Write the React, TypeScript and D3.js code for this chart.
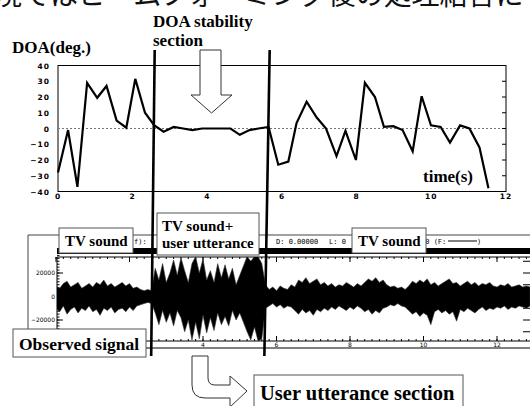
import React from 'react';
import * as d3 from 'd3';

const W = 530;
const H = 406;

// DOA estimate over time
const doaTime = [0, 0.27, 0.52, 0.78, 1.05, 1.3, 1.57, 1.83, 2.07, 2.33, 2.58, 2.83, 3.1, 3.35, 3.6, 3.86, 4.12, 4.38, 4.62, 4.87, 5.13, 5.37, 5.64,
  5.9, 6.17, 6.39, 6.66, 6.93, 7.18, 7.46, 7.7, 7.98, 8.22, 8.49, 8.73, 8.98, 9.23, 9.5, 9.74, 9.99, 10.25, 10.5, 10.77, 11.02, 11.29, 11.53];
const doaDeg = [-28, -1, -37, 29, 19.5, 27, 5, 0.5, 31.5, 10, 2, -2, 1, 0, -1, 0, 0, 0, 0, -4, -1, 0, 1,
  -23, -21, 3.5, 17, 7, 0, -17.5, -1.5, -20, 29, 20, 1, 1.5, -1, -14.5, 20.5, 2, 1, -9, 2, 0, -12, -38];
const doaYTicks = [40, 30, 20, 10, 0, -10, -20, -30, -40];
const doaXTicks = [0, 2, 4, 6, 8, 10, 12];

// observed signal envelope, one value every 0.1 s (thousands)
const wavStep = 0.1;
const wavUpper = [
  9, 7, 11, 13, 8, 10, 12, 7, 9, 11, 8, 12, 10, 14, 9, 11, 8, 10, 12, 9, 11, 7, 8, 6, 5, 6, 5,
  24, 14, 28, 12, 20, 31, 18, 33, 22, 12, 28, 34, 20, 32, 14, 22, 12, 28, 16, 27, 15, 24, 10, 18, 26, 34, 30, 34, 34, 28, 10,
  6, 8, 5, 9, 7, 6, 10, 8, 14, 12, 16, 11, 13, 15, 10, 12, 9, 11, 8, 10, 9, 12, 10, 8, 11, 9, 12, 15, 13, 16, 12, 14,
  10, 8, 9, 7, 8, 6, 9, 13, 11, 14, 12, 15, 10, 12, 9, 11, 13, 15, 11, 12, 9, 11, 13, 10, 12, 9, 11, 10, 12, 9,
  8, 10, 9, 11, 8, 9, 10, 8, 9, 8];
const wavLower = [
  -10, -13, -8, -15, -11, -9, -14, -10, -12, -8, -13, -11, -16, -10, -12, -9, -14, -11, -10, -13, -9, -12, -8, -7, -6, -5, -6,
  -14, -24, -12, -22, -14, -25, -12, -18, -30, -20, -37, -22, -36, -16, -31, -18, -29, -14, -24, -17, -25, -12, -20, -14, -22, -30, -37, -26, -38, -36, -10,
  -8, -6, -9, -7, -10, -8, -9, -12, -15, -11, -14, -12, -16, -11, -13, -10, -12, -9, -11, -8, -10, -12, -9, -11, -8, -10, -13, -11, -15, -12, -14, -10,
  -9, -7, -8, -6, -8, -9, -12, -15, -13, -17, -14, -16, -24, -13, -11, -14, -12, -15, -13, -21, -11, -13, -10, -12, -14, -11, -9, -12, -10, -11,
  -9, -10, -8, -11, -9, -10, -8, -9, -10, -8];
const wavXTicks = [4, 6, 8, 10, 12];
const wavYLabels = [20000, 0, -20000];

// boundaries of the DOA stability section (s)
const sectionBounds = [2.59, 5.67];

const serif = '"Liberation Serif", "Times New Roman", serif';
const sans = '"DejaVu Sans", Arial, sans-serif';
const mono = '"DejaVu Sans Mono", "Liberation Mono", monospace';

const minus = (v: number) => String(v).replace('-', '\u2212');

function Label({ x, y, w, h, lines, size, tx, base }: any) {
  return (
    <g>
      <rect x={x} y={y} width={w} height={h} fill="#fff" stroke="#555" strokeWidth={1} />
      {lines.map((s: string, i: number) => (
        <text key={i} x={tx} y={base[i]} fontFamily={serif} fontWeight="bold" fontSize={size} fill="#000">{s}</text>
      ))}
    </g>
  );
}

export default function App() {
  const xDoa = d3.scaleLinear().domain([0, 12]).range([58, 506]);
  const yDoa = d3.scaleLinear().domain([-40, 40]).range([191.5, 65.5]);
  const xWav = d3.scaleLinear().domain([0, 12]).range([56, 497]);
  const yWav = d3.scaleLinear().domain([-20000, 20000]).range([320, 273]);

  const doaLine = d3.line<number>()
    .x((_, i) => xDoa(doaTime[i]))
    .y(d => yDoa(d));

  const wavArea = d3.area<number>()
    .x((_, i) => xWav(i * wavStep))
    .y0((_, i) => yWav(wavLower[i] * 1000))
    .y1(d => yWav(d * 1000));

  const minorT = d3.range(0, 13, 0.2);
  const evenT = d3.range(0, 14, 2);
  const sideTicks = d3.range(-30000, 35000, 10000);
  const leftMinor = d3.range(-35000, 36000, 2500);

  return (
    <svg width={W} height={H} style={{ position: 'absolute', left: 0, top: 0, background: '#fff' }}>
      <defs>
        <clipPath id="wclip"><rect x={57} y={257} width={473} height={84} /></clipPath>
        <clipPath id="page"><rect x={0} y={0} width={W} height={H} /></clipPath>
      </defs>

      {/* heading, cut off by the top edge */}
      <text x={-6} y={5} fontFamily='"Noto Sans CJK JP", sans-serif' fontSize={28} fill="#111">境ではビームフォーミング後の処理結合に</text>

      {/* ---- DOA plot ---- */}
      <text x={12} y={53} fontFamily={serif} fontWeight="bold" fontSize={17}>DOA(deg.)</text>
      <text x={153} y={27} fontFamily={serif} fontWeight="bold" fontSize={17}>DOA stability</text>
      <text x={153} y={46} fontFamily={serif} fontWeight="bold" fontSize={17}>section</text>

      <rect x={58} y={65.5} width={448} height={126} fill="none" stroke="#000" strokeWidth={1} />
      <line x1={58} x2={506} y1={yDoa(0)} y2={yDoa(0)} stroke="#777" strokeWidth={1} strokeDasharray="2,2" />
      {doaYTicks.map(t => (
        <g key={t}>
          <line x1={502} x2={506} y1={yDoa(t)} y2={yDoa(t)} stroke="#000" />
          <text x={50} y={yDoa(t) + 3} textAnchor="end" fontFamily={sans} fontWeight="bold" fontSize={7.5} letterSpacing={1}>{minus(t)}</text>
        </g>
      ))}
      {doaXTicks.map(t => (
        <text key={t} x={xDoa(t)} y={199} textAnchor="middle" fontFamily={sans} fontWeight="bold" fontSize={7.5} letterSpacing={1}>{t}</text>
      ))}
      <path d={doaLine(doaDeg) || ''} fill="none" stroke="#000" strokeWidth={2.2} strokeLinejoin="miter" />
      <text x={423} y={182} fontFamily={serif} fontWeight="bold" fontSize={17}>time(s)</text>

      {/* hollow down arrow */}
      <path d="M200,50 L221,50 L221,95 L232,95 L211.5,113 L191,95 L200,95 Z" fill="#fff" stroke="#333" strokeWidth={1} />

      {/* ---- waveform viewer ---- */}
      <g clipPath="url(#page)">
        <line x1={28} x2={W} y1={235} y2={235} stroke="#444" />
        <line x1={28} x2={28} y1={235} y2={341} stroke="#444" />
        <rect x={57} y={248} width={W - 57} height={6} fill="#000" />
        <text x={134} y={244} fontFamily={mono} fontSize={7}>f):</text>
        <text x={276} y={244} fontFamily={mono} fontSize={7}>D: 0.00000</text>
        <text x={329} y={244} fontFamily={mono} fontSize={7}>L: 0</text>
        <text x={421} y={244} fontFamily={mono} fontSize={7}>00 (F:</text>
        <line x1={448} x2={477} y1={241} y2={241} stroke="#000" />
        <text x={477} y={244} fontFamily={mono} fontSize={7}>)</text>

        <line x1={57} x2={W} y1={257} y2={257} stroke="#000" />
        <line x1={57} x2={W} y1={341} y2={341} stroke="#000" />
        <line x1={57} x2={W} y1={348} y2={348} stroke="#000" />
        <line x1={57} x2={57} y1={257} y2={348} stroke="#000" />
        {minorT.map(t => (
          <g key={t}>
            <line x1={xWav(t)} x2={xWav(t)} y1={257} y2={259} stroke="#000" />
            <line x1={xWav(t)} x2={xWav(t)} y1={341} y2={339} stroke="#000" />
          </g>
        ))}
        {evenT.map(t => (
          <g key={t}>
            <line x1={xWav(t)} x2={xWav(t)} y1={257} y2={262} stroke="#000" />
            <line x1={xWav(t)} x2={xWav(t)} y1={341} y2={336} stroke="#000" />
          </g>
        ))}
        {wavXTicks.map(t => (
          <text key={t} x={xWav(t)} y={346.5} textAnchor="middle" fontFamily={sans} fontSize={6}>{t}</text>
        ))}
        {leftMinor.map(v => (
          <line key={v} x1={57} x2={59.5} y1={yWav(v)} y2={yWav(v)} stroke="#000" />
        ))}
        {wavYLabels.map(v => (
          <g key={v}>
            <line x1={57} x2={63} y1={yWav(v)} y2={yWav(v)} stroke="#000" />
            <text x={55} y={yWav(v) + 2} textAnchor="end" fontFamily={sans} fontSize={6}>{minus(v)}</text>
          </g>
        ))}
        {sideTicks.map(v => (
          <line key={v} x1={523} x2={W} y1={yWav(v)} y2={yWav(v)} stroke="#000" />
        ))}
        <path d={wavArea(wavUpper) || ''} fill="#000" stroke="#333" strokeWidth={0.6} clipPath="url(#wclip)" />
      </g>

      {/* section boundary lines */}
      {sectionBounds.map(b => (
        <line key={b} x1={xDoa(b)} y1={50} x2={xWav(b)} y2={356} stroke="#000" strokeWidth={2.6} />
      ))}

      <Label x={59} y={228} w={74} h={25} lines={['TV sound']} size={15} tx={65} base={[246]} />
      <Label x={157} y={213} w={102} h={42} lines={['TV sound+', 'user utterance']} size={15} tx={162} base={[231, 248]} />
      <Label x={352} y={228} w={74} h={25} lines={['TV sound']} size={15} tx={358} base={[246]} />
      <Label x={13} y={329} w={133} h={28} lines={['Observed signal']} size={17.5} tx={19} base={[350]} />
      <Label x={254} y={375} w={209} h={40} lines={['User utterance section']} size={20.5} tx={260} base={[400]} />

      {/* curved hollow arrow */}
      <path d="M192,356 L192,385 Q192,398 205,398 L230,398 L230,407 L247,391 L230,376 L230,385 L215,385 Q208,385 208,378 L208,356 Z"
        fill="#fff" stroke="#333" strokeWidth={1} />
    </svg>
  );
}
